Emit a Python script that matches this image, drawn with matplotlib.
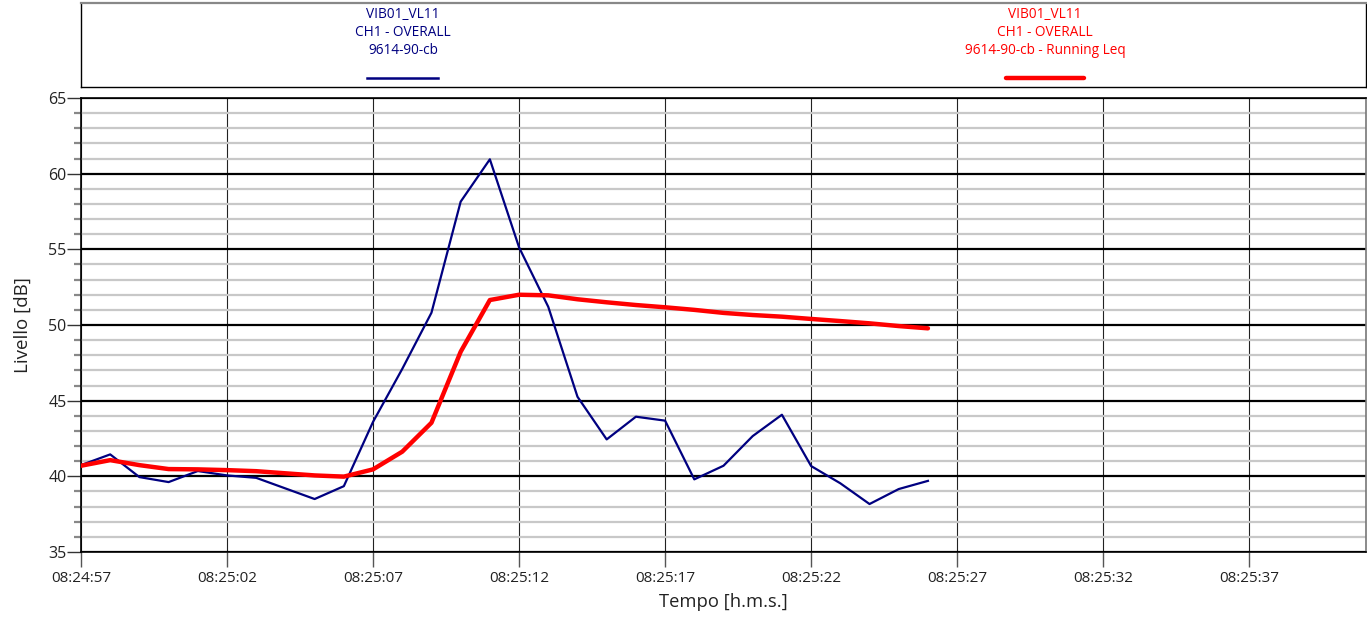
import matplotlib
matplotlib.use("Agg")
import matplotlib.pyplot as plt
from matplotlib.ticker import MultipleLocator, FixedLocator
from matplotlib.lines import Line2D

plt.rcParams['font.family'] = ['Open Sans', 'DejaVu Sans']

# ---- data ----
seconds = list(range(30))  # seconds after 08:24:57
overall = [40.74, 41.45, 39.95, 39.62, 40.35, 40.06, 39.90, 39.20, 38.50, 39.35,
           43.60, 47.10, 50.81, 58.15, 60.95, 55.13, 51.20, 45.26, 42.44, 43.94,
           43.68, 39.80, 40.70, 42.66, 44.07, 40.68, 39.54, 38.17, 39.16, 39.70]
running_leq = [40.70, 41.07, 40.74, 40.48, 40.46, 40.41, 40.34, 40.20, 40.06, 39.98,
               40.46, 41.63, 43.54, 48.23, 51.65, 52.00, 51.96, 51.70, 51.50, 51.32,
               51.17, 51.00, 50.80, 50.66, 50.55, 50.40, 50.26, 50.11, 49.93, 49.78]
tick_seconds = [0, 5, 10, 15, 20, 25, 30, 35, 40]
tick_labels = ["08:24:57", "08:25:02", "08:25:07", "08:25:12", "08:25:17",
               "08:25:22", "08:25:27", "08:25:32", "08:25:37"]
legend_blue = ["VIB01_VL11", "CH1 - OVERALL", "9614-90-cb"]
legend_red = ["VIB01_VL11", "CH1 - OVERALL", "9614-90-cb - Running Leq"]

W, H = 1367, 620
fig = plt.figure(figsize=(W / 100, H / 100), dpi=100)

def fx(px):
    return px / W

def fy(py):
    return 1 - py / H

ax = fig.add_axes([fx(81), fy(552), fx(1366 - 81), (552 - 98) / H])

# grid
ax.set_axisbelow(True)
ax.yaxis.set_major_locator(MultipleLocator(5))
ax.yaxis.set_minor_locator(MultipleLocator(1))
ax.xaxis.set_major_locator(FixedLocator(tick_seconds))
ax.grid(True, which='minor', axis='y', color='#c8c8c8', lw=1.6)
ax.grid(True, which='major', axis='y', color='black', lw=1.6)
ax.grid(True, which='major', axis='x', color='#222222', lw=0.8)

ax.plot(seconds, overall, color='#000080', lw=1.6, zorder=3)
ax.plot(seconds, running_leq, color='#ff0000', lw=3.2, zorder=4,
        solid_capstyle='round')

ax.set_xlim(0, 44)
ax.set_ylim(35, 65)
ax.set_xticks(tick_seconds)
ax.set_xticklabels(tick_labels)

ax.tick_params(axis='y', which='major', length=10, width=1.0, color='#333333',
               labelsize=11.5, pad=0.5, labelcolor='#222222')
ax.tick_params(axis='y', which='minor', length=5, width=1.6, color='#888888')
ax.tick_params(axis='x', which='major', length=11, width=1.0, color='#555555',
               labelsize=11, pad=3, labelcolor='#222222')

for s in ['left', 'bottom', 'top']:
    ax.spines[s].set_color('black')
    ax.spines[s].set_linewidth(1.2)
ax.spines['right'].set_color('#777777')
ax.spines['right'].set_linewidth(1.2)

ax.set_ylabel("Livello [dB]", fontsize=13.5, color='#222222', labelpad=12)
ax.set_xlabel("Tempo [h.m.s.]", fontsize=13.2, color='#222222', labelpad=5)

# legend box
lax = fig.add_axes([fx(81), fy(87), fx(1366 - 81), (87 - 3) / H])
lax.set_xlim(0, W)
lax.set_ylim(87, 3)
lax.set_xticks([])
lax.set_yticks([])
for s in ['left', 'bottom', 'right']:
    lax.spines[s].set_color('black')
    lax.spines[s].set_linewidth(1.0)
lax.spines['top'].set_color('#888888')
lax.spines['top'].set_linewidth(1.6)

for lines, cx, col in [(legend_blue, 403, '#000080'), (legend_red, 1045, '#ff0000')]:
    for i, t in enumerate(lines):
        fig.text(fx(cx), fy(14 + 18.5 * i), t, ha='center', va='center',
                 fontsize=9.8, color=col)

fig.add_artist(Line2D([fx(367), fx(438)], [fy(78), fy(78)], color='#000080', lw=1.8))
fig.add_artist(Line2D([fx(1006), fx(1084)], [fy(78), fy(78)], color='#ff0000', lw=3.2,
                      solid_capstyle='round'))

fig.savefig("out.png", dpi=100)
